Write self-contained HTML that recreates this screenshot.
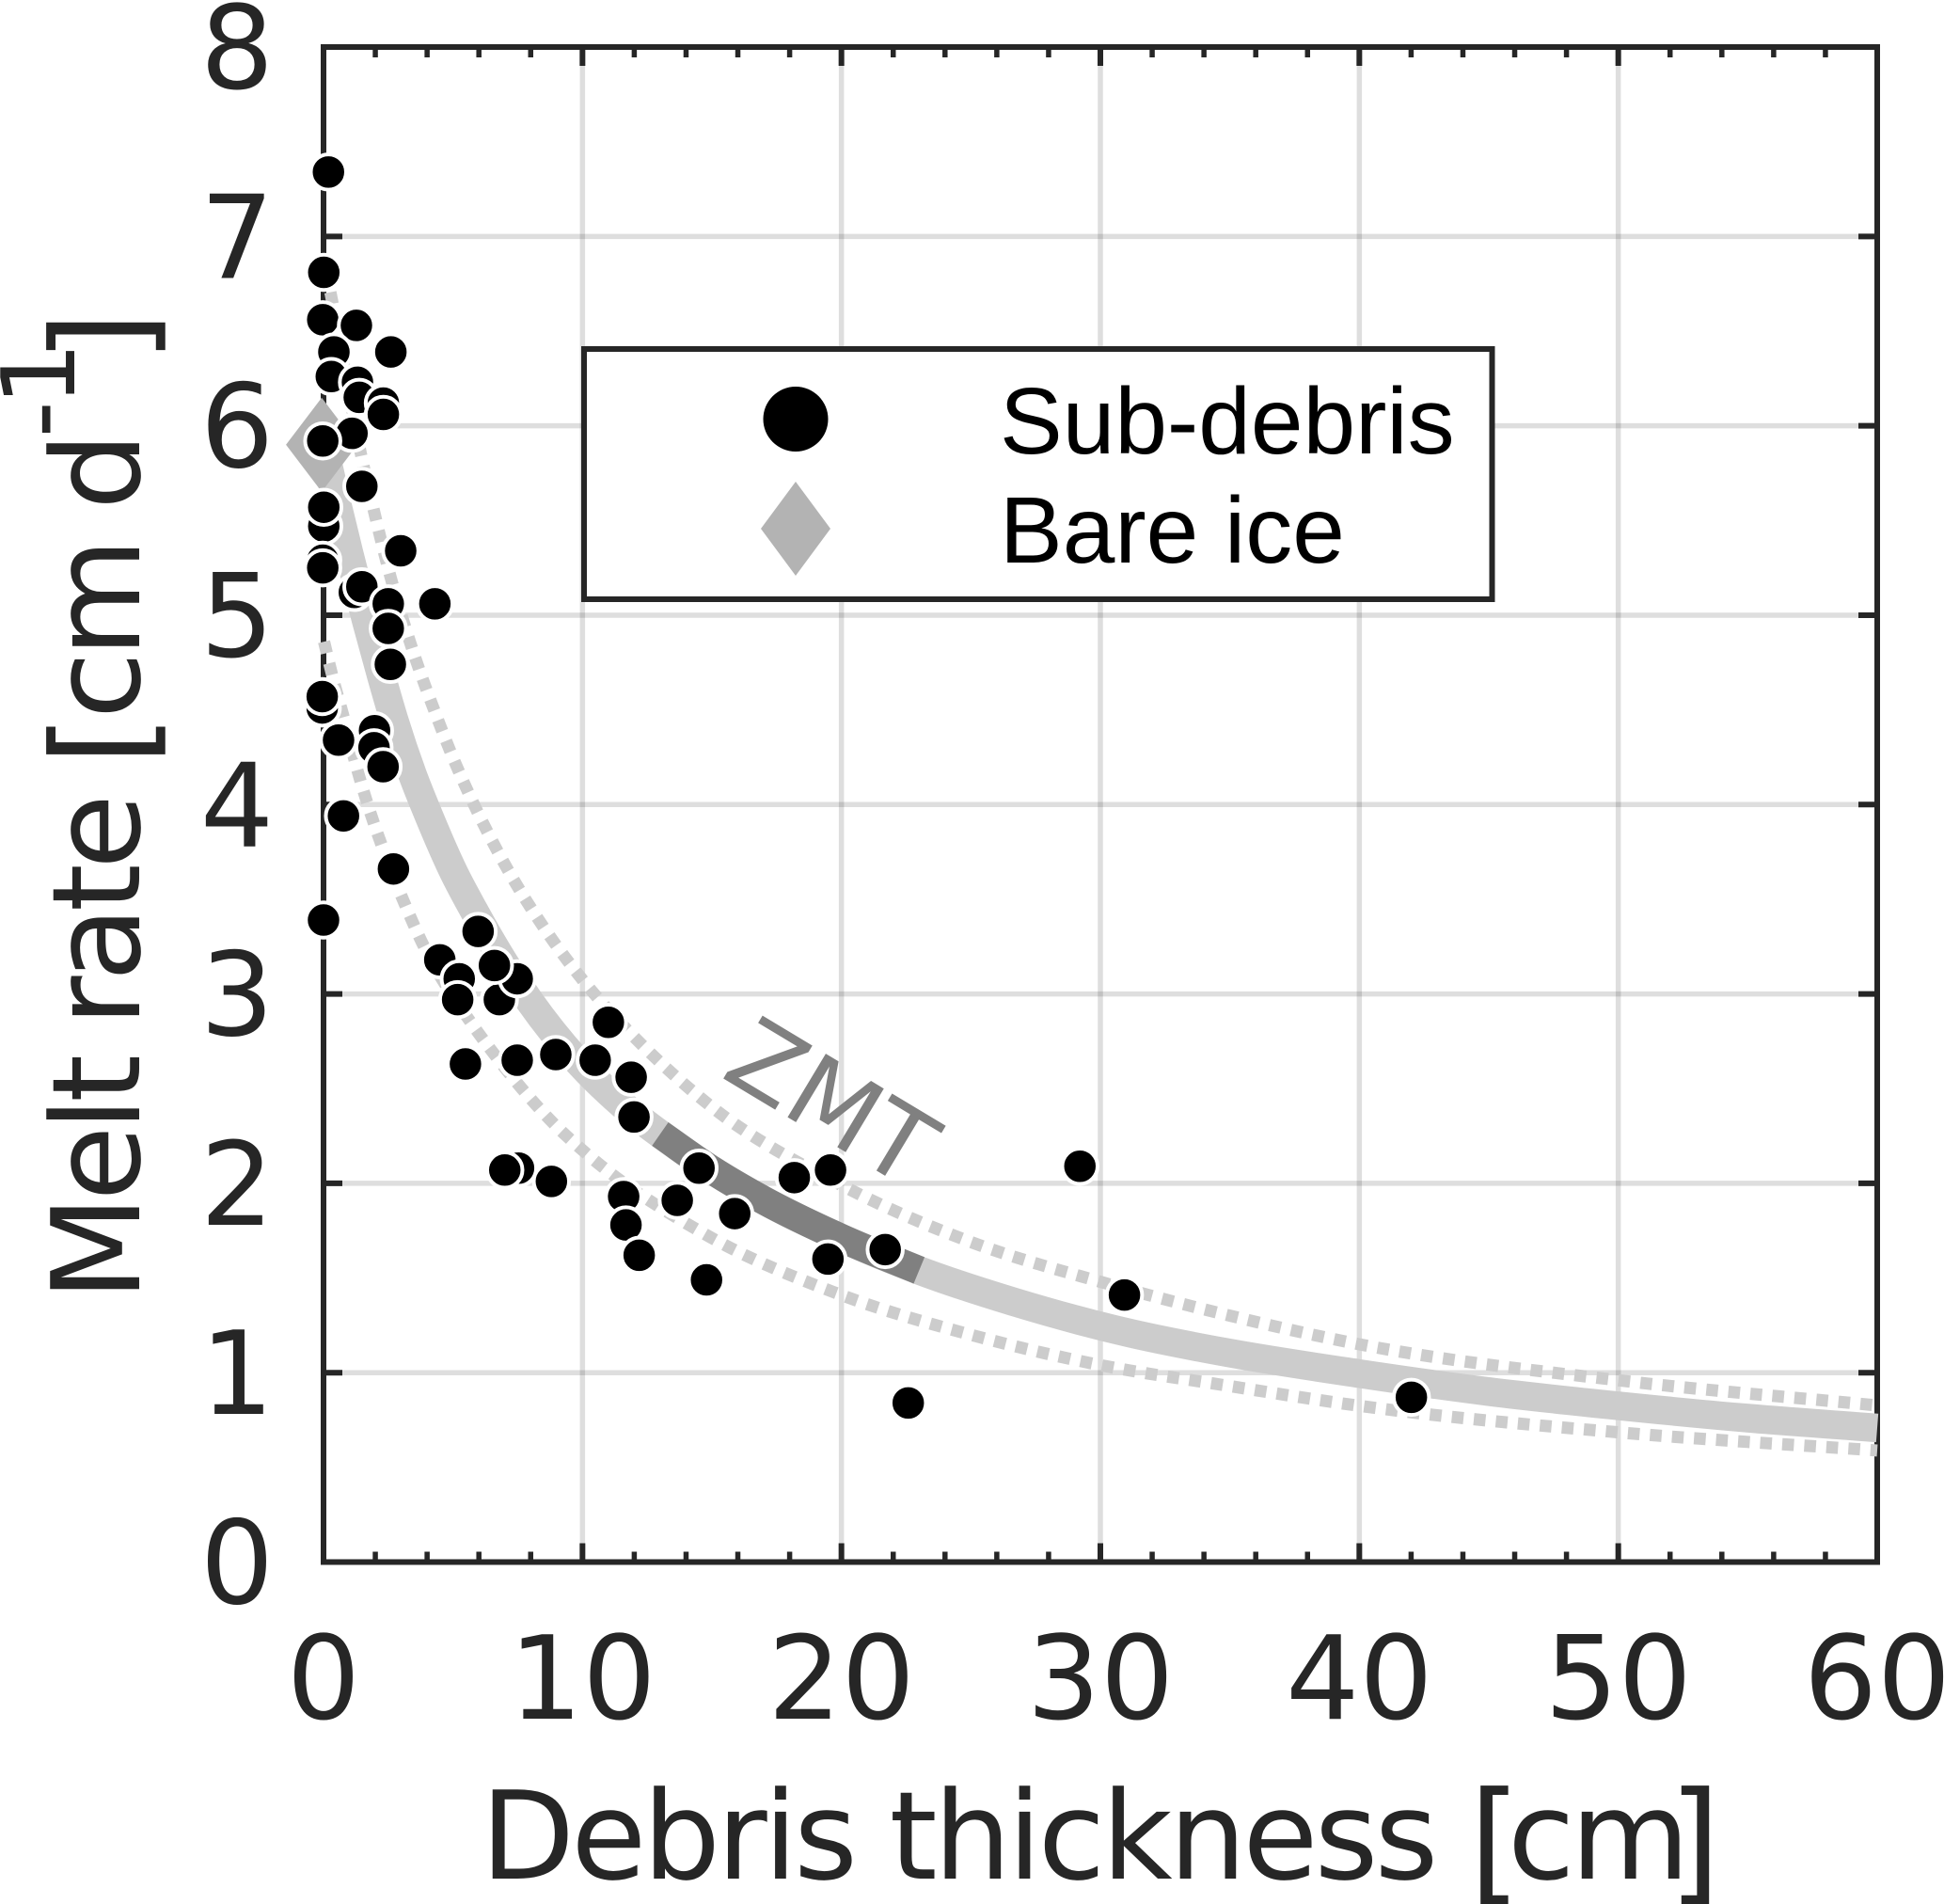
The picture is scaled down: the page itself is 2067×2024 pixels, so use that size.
<!DOCTYPE html>
<html lang="en">
<head>
<meta charset="utf-8">
<title>Melt rate vs debris thickness</title>
<style>
html,body{margin:0;padding:0;background:#fff;}
svg{display:block;}
text{font-family:"DejaVu Sans","Liberation Sans",sans-serif;fill:#262626;}
.legend-label{font-family:"Liberation Sans",sans-serif;font-size:100px;fill:#000;}
</style>
</head>
<body>
<svg id="chart" xmlns="http://www.w3.org/2000/svg" width="2067" height="2024" viewBox="0 0 2067 2024">
  <rect x="0" y="0" width="2067" height="2024" fill="#fff"/>
  <g id="grid"></g>
  <g id="ticks"></g>
  <rect x="344" y="50" width="1652" height="1610.5" fill="none" stroke="#262626" stroke-width="6"/>
  <g id="tick-labels"></g>
  <text x="511" y="1997" font-size="130" letter-spacing="-3.8">Debris thickness <tspan x="1562" y="2006" font-size="142">[</tspan><tspan x="1603" y="1997" font-size="130" letter-spacing="-4.5">cm</tspan><tspan x="1774" y="2006" font-size="142">]</tspan></text>
  <text transform="translate(148,1383) rotate(-90)" font-size="130" letter-spacing="-5.7">Melt rate <tspan dy="9" font-size="142">[</tspan><tspan dy="-9" font-size="130">cm d</tspan><tspan dy="-69" font-size="108">-1</tspan><tspan dy="78" dx="-17" font-size="142">]</tspan></text>
  <g id="curves"></g>
  <text transform="translate(765,1144) rotate(31)" font-size="108" style="fill:#808080">ZMT</text>
  <g id="bare-ice"></g>
  <g id="points"></g>
  <g>
    <rect x="621" y="371" width="965.5" height="266" fill="#fff" stroke="#262626" stroke-width="6"/>
    <circle cx="846" cy="445.5" r="34.5" fill="#000"/>
    <polygon points="846,512 883,562 846,612 809,562" fill="#b3b3b3"/>
    <text class="legend-label" x="1063" y="482">Sub-debris</text>
    <text class="legend-label" x="1063" y="598">Bare ice</text>
  </g>
</svg>
<script>
const xTicks = [0, 10, 20, 30, 40, 50, 60];
const yTicks = [0, 1, 2, 3, 4, 5, 6, 7, 8];
const xMinorTicks = [2, 4, 6, 8, 12, 14, 16, 18, 22, 24, 26, 28, 32, 34, 36, 38, 42, 44, 46, 48, 52, 54, 56, 58];

const curveX = [0, 0.5, 0.98, 1.65, 2.25, 2.74, 3.43, 4.04, 5, 5.81, 7, 7.97, 9.78, 11.5, 13, 15, 17, 20, 23, 26.75, 31.1, 34.73, 40, 45, 50, 55, 60];
const curveY = [5.9, 5.6, 5.33, 4.97, 4.67, 4.44, 4.16, 3.95, 3.65, 3.44, 3.16, 2.96, 2.65, 2.42, 2.26, 2.07, 1.91, 1.71, 1.54, 1.37, 1.21, 1.11, 0.995, 0.9, 0.825, 0.76, 0.708];

const zmtX = [13, 15, 17, 20, 23];
const zmtY = [2.26, 2.07, 1.91, 1.71, 1.54];

const upperX = [0.1, 0.33, 1.43, 2.0, 2.34, 3.43, 3.73, 4.27, 4.9, 5.95, 7.14, 8.51, 10.03, 11.8, 12.99, 14.93, 20, 25, 30, 34.73, 40, 50, 60];
const upperY = [6.82, 6.66, 5.86, 5.52, 5.33, 4.82, 4.7, 4.5, 4.28, 3.96, 3.65, 3.35, 3.07, 2.8, 2.64, 2.41, 1.99, 1.69, 1.48, 1.31, 1.15, 0.96, 0.827];

const lowerX = [0.02, 0.16, 0.34, 0.82, 1.19, 1.73, 2.34, 3.31, 3.67, 5.79, 6.27, 7.91, 9, 10, 14.75, 20, 25, 30, 34.73, 40, 50, 60];
const lowerY = [4.86, 4.78, 4.68, 4.44, 4.24, 3.99, 3.75, 3.42, 3.31, 2.83, 2.74, 2.46, 2.3, 2.175, 1.73, 1.41, 1.2, 1.04, 0.935, 0.825, 0.685, 0.589];

const bareIceX = [-0.07];
const bareIceY = [5.9];

const pointsX = [0.19, 0.01, -0.03, 1.27, 0.4, 2.6, 0.3, 1.31, 1.38, 2.31, 2.31, 1.1, -0.03, 1.48, 0.01, 0.01, -0.03, -0.03, 1.19, 1.48, 2.5, 2.98, 4.3, 2.5, 2.58, -0.05, -0.05, 0.58, 1.97, 1.95, 2.3, 0.77, 2.7, 0, 5.97, 4.49, 5.24, 5.18, 6.79, 7.48, 6.6, 11, 5.48, 7.48, 8.97, 10.49, 11.88, 11.99, 7.53, 7, 8.8, 11.59, 11.68, 12.19, 13.66, 14.5, 15.88, 14.79, 18.18, 19.58, 19.48, 21.69, 22.58, 29.21, 30.93, 42.01];
const pointsY = [7.34, 6.81, 6.56, 6.53, 6.39, 6.39, 6.26, 6.23, 6.15, 6.12, 6.06, 5.96, 5.92, 5.68, 5.47, 5.57, 5.29, 5.25, 5.12, 5.15, 5.06, 5.34, 5.06, 4.93, 4.74, 4.51, 4.57, 4.34, 4.39, 4.3, 4.2, 3.94, 3.66, 3.39, 3.33, 3.18, 3.08, 2.97, 2.97, 3.08, 3.15, 2.85, 2.63, 2.65, 2.68, 2.65, 2.56, 2.35, 2.08, 2.07, 2.01, 1.93, 1.78, 1.62, 1.91, 2.08, 1.84, 1.49, 2.03, 2.07, 1.6, 1.65, 0.84, 2.09, 1.41, 0.87];

const SVGNS = 'http://www.w3.org/2000/svg';
const plot = { left: 344, right: 1996, top: 50, bottom: 1660.5, xMax: 60, yMax: 8 };
function sx(v) { return plot.left + (v / plot.xMax) * (plot.right - plot.left); }
function sy(v) { return plot.bottom - (v / plot.yMax) * (plot.bottom - plot.top); }
function make(tag, parent, attrs) {
  const el = document.createElementNS(SVGNS, tag);
  Object.keys(attrs).forEach(function (k) { el.setAttribute(k, attrs[k]); });
  parent.appendChild(el);
  return el;
}
function curvePath(xs, ys) {
  const px = xs.map(sx);
  const py = ys.map(sy);
  const n = px.length;
  const s = [];
  for (let i = 0; i < n - 1; i++) s.push((py[i + 1] - py[i]) / (px[i + 1] - px[i]));
  const m = [s[0]];
  for (let i = 1; i < n - 1; i++) {
    const h0 = px[i] - px[i - 1];
    const h1 = px[i + 1] - px[i];
    m.push((h0 * s[i] + h1 * s[i - 1]) / (h0 + h1));
  }
  m.push(s[n - 2]);
  let d = 'M' + px[0].toFixed(2) + ' ' + py[0].toFixed(2);
  for (let i = 0; i < n - 1; i++) {
    const h = (px[i + 1] - px[i]) / 3;
    d += ' C' + (px[i] + h).toFixed(2) + ' ' + (py[i] + m[i] * h).toFixed(2) + ' ' +
      (px[i + 1] - h).toFixed(2) + ' ' + (py[i + 1] - m[i + 1] * h).toFixed(2) + ' ' +
      px[i + 1].toFixed(2) + ' ' + py[i + 1].toFixed(2);
  }
  return d;
}

const gridG = document.getElementById('grid');
xTicks.slice(1, -1).forEach(function (v) {
  const el = make('line', gridG, { x1: sx(v), x2: sx(v), y1: plot.top, y2: plot.bottom, stroke: '#000', 'stroke-opacity': 0.13, 'stroke-width': 5.5 });
  
  
});
yTicks.slice(1, -1).forEach(function (v) {
  const el = make('line', gridG, { x1: plot.left, x2: plot.right, y1: sy(v), y2: sy(v), stroke: '#000', 'stroke-opacity': 0.13, 'stroke-width': 5.5 });
  
  
});

const tickG = document.getElementById('ticks');
const TICK = '#262626';
xTicks.slice(1, -1).forEach(function (v) {
  const a = make('line', tickG, { x1: sx(v), x2: sx(v), y1: plot.bottom, y2: plot.bottom - 20, stroke: TICK, 'stroke-width': 6 });
  
  
  const b = make('line', tickG, { x1: sx(v), x2: sx(v), y1: plot.top, y2: plot.top + 20, stroke: TICK, 'stroke-width': 6 });
  
  
});
xMinorTicks.forEach(function (v) {
  const a = make('line', tickG, { x1: sx(v), x2: sx(v), y1: plot.bottom, y2: plot.bottom - 11, stroke: TICK, 'stroke-width': 5.5 });
  
  
  const b = make('line', tickG, { x1: sx(v), x2: sx(v), y1: plot.top, y2: plot.top + 11, stroke: TICK, 'stroke-width': 5.5 });
  
  
});
yTicks.slice(1, -1).forEach(function (v) {
  const a = make('line', tickG, { x1: plot.left, x2: plot.left + 20, y1: sy(v), y2: sy(v), stroke: TICK, 'stroke-width': 6 });
  
  
  const b = make('line', tickG, { x1: plot.right, x2: plot.right - 20, y1: sy(v), y2: sy(v), stroke: TICK, 'stroke-width': 6 });
  
  
});

const labelG = document.getElementById('tick-labels');
xTicks.forEach(function (v) {
  const t = make('text', labelG, { x: sx(v), y: 1827, 'text-anchor': 'middle', 'font-size': 123 });
  
  
  t.textContent = String(v);
});
yTicks.forEach(function (v) {
  const t = make('text', labelG, { x: 252, y: sy(v) + 44, 'text-anchor': 'middle', 'font-size': 123 });
  
  
  t.textContent = String(v);
});

const curveG = document.getElementById('curves');
const upperLine = make('path', curveG, { d: curvePath(upperX, upperY), fill: 'none', stroke: '#cccccc', 'stroke-width': 13, 'stroke-dasharray': '12.5 11' });


const lowerLine = make('path', curveG, { d: curvePath(lowerX, lowerY), fill: 'none', stroke: '#cccccc', 'stroke-width': 13, 'stroke-dasharray': '12.5 11' });


const mainLine = make('path', curveG, { d: curvePath(curveX, curveY), fill: 'none', stroke: '#cccccc', 'stroke-width': 30.5 });


const zmtLine = make('path', curveG, { d: curvePath(zmtX, zmtY), fill: 'none', stroke: '#808080', 'stroke-width': 30.5 });



const iceG = document.getElementById('bare-ice');
bareIceX.forEach(function (v, i) {
  const cx = sx(v);
  const cy = sy(bareIceY[i]);
  const d = make('polygon', iceG, { points: [cx, cy - 50, cx + 38, cy, cx, cy + 50, cx - 38, cy].join(' '), fill: '#b3b3b3' });
  
  
});

const pointG = document.getElementById('points');
pointsX.forEach(function (v, i) {
  const c = make('circle', pointG, { cx: sx(v), cy: sy(pointsY[i]), r: 18.75, fill: '#000', stroke: '#fff', 'stroke-width': 4 });
  
  
});
</script>
</body>
</html>
